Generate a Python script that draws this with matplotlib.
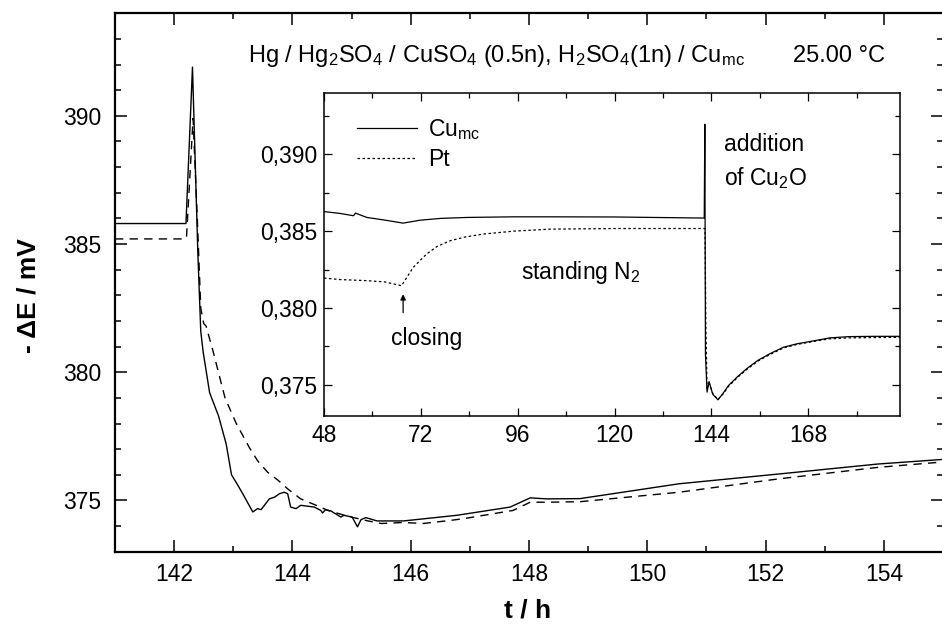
import matplotlib
matplotlib.use("Agg")
import matplotlib.pyplot as plt
from matplotlib.ticker import MultipleLocator, FuncFormatter

# main plot: potential (mV) vs time (h), close-up after Cu2O addition
main_t_cu = [141.0, 142.20, 142.31, 142.40, 142.45, 142.49, 142.60, 142.75, 142.88, 142.97,
             143.08, 143.16, 143.33, 143.41, 143.47, 143.61, 143.70, 143.78, 143.86, 143.92,
             143.97, 144.06, 144.14, 144.37, 144.48, 144.51, 144.56, 144.65, 144.82, 144.87,
             145.01, 145.10, 145.16, 145.24, 145.43, 145.88, 146.78, 147.68, 148.02, 148.30,
             148.86, 150.54, 152.22, 153.90, 155.0]
main_e_cu = [385.8, 385.8, 391.9, 384.7, 381.6, 380.8, 379.2, 378.3, 377.2, 376.0,
             375.58, 375.26, 374.55, 374.68, 374.64, 375.06, 375.13, 375.26, 375.32, 375.26,
             374.74, 374.68, 374.81, 374.74, 374.61, 374.51, 374.64, 374.59, 374.35, 374.42,
             374.35, 373.97, 374.25, 374.33, 374.20, 374.20, 374.42, 374.74, 375.10, 375.06,
             375.07, 375.65, 376.03, 376.42, 376.60]

main_t_pt = [141.0, 142.19, 142.21, 142.32, 142.40, 142.45, 142.50, 142.54, 142.66, 142.86,
             143.05, 143.27, 143.41, 143.58, 143.75, 143.92, 144.14, 144.37, 144.60, 144.94,
             145.28, 145.50, 145.88, 146.21, 146.67, 146.90, 147.73, 148.02, 148.30, 148.86,
             150.54, 152.22, 153.90, 155.0]
main_e_pt = [385.2, 385.2, 385.3, 389.9, 385.5, 382.5, 381.9, 381.8, 380.8, 379.0,
             378.0, 377.07, 376.55, 376.1, 375.8, 375.45, 375.06, 374.84, 374.61, 374.38,
             374.20, 374.10, 374.14, 374.10, 374.22, 374.29, 374.61, 374.93, 374.93, 374.95,
             375.32, 375.84, 376.29, 376.50]

# inset: whole run, potential in V
inset_t_cu = [48, 52, 55.3, 55.8, 58.6, 63, 67.6, 71.8, 77, 83.4, 95, 104, 120, 142.2,
              142.35, 142.5, 142.9, 143.4, 144.3, 145.6, 147.0, 148.2, 150.5, 152.7, 155.5,
              158.4, 161.8, 165.1, 170.0, 173.3, 178, 184, 190.7]
inset_e_cu = [0.38627, 0.38615, 0.38600, 0.38617, 0.38589, 0.38572, 0.38552, 0.38571, 0.38583,
              0.38589, 0.38593, 0.38593, 0.38592, 0.38585, 0.39195, 0.37700, 0.37453, 0.37522,
              0.37440, 0.37403, 0.37450, 0.37496, 0.37555, 0.37605, 0.37660, 0.37702, 0.37745,
              0.37767, 0.37790, 0.37806, 0.37814, 0.37816, 0.37816]

inset_t_pt = [48, 52, 58.6, 63, 67.2, 70.1, 73.4, 76, 79.2, 83, 87.5, 95, 104, 120, 142.4,
              142.6, 142.9, 143.4, 144.3, 145.6, 147.0, 148.2, 150.5, 152.7, 155.5, 158.4,
              161.8, 165.1, 170.0, 173.3, 178, 184, 190.7]
inset_e_pt = [0.38195, 0.38185, 0.38178, 0.38170, 0.38145, 0.38264, 0.38351, 0.38400, 0.38437,
              0.38462, 0.38481, 0.38500, 0.38513, 0.38517, 0.38517, 0.37900, 0.37470, 0.37515,
              0.37445, 0.37405, 0.37445, 0.37490, 0.37550, 0.37600, 0.37655, 0.37697, 0.37740,
              0.37763, 0.37786, 0.37800, 0.37806, 0.37808, 0.37810]

closing_t = 67.6

plt.rcParams['font.family'] = ['Liberation Sans', 'DejaVu Sans']
plt.rcParams['mathtext.fontset'] = 'custom'
plt.rcParams['mathtext.rm'] = 'Liberation Sans'
plt.rcParams['mathtext.it'] = 'Liberation Sans:italic'
plt.rcParams['mathtext.bf'] = 'Liberation Sans:bold'

FS = 16.5

fig = plt.figure(figsize=(9.42, 6.33), dpi=100)

# ---- main axes
ax = fig.add_axes([115 / 942, 1 - 551.7 / 633, 828 / 942, 538.4 / 633])
ax.plot(main_t_cu, main_e_cu, color='black', lw=1.0)
ax.plot(main_t_pt, main_e_pt, color='black', lw=1.0, dashes=(6, 4.5))
ax.set_xlim(141, 155)
ax.set_ylim(373, 394)
ax.xaxis.set_major_locator(MultipleLocator(2))
ax.xaxis.set_minor_locator(MultipleLocator(1))
ax.yaxis.set_major_locator(MultipleLocator(5))
ax.yaxis.set_minor_locator(MultipleLocator(1))
ax.tick_params(which='both', direction='in', top=True, right=True, width=1.1)
ax.tick_params(which='major', length=8.5, labelsize=FS)
ax.tick_params(which='minor', length=4.5)
ax.tick_params(axis='x', pad=8)
ax.tick_params(axis='y', pad=10)
for sp in ax.spines.values():
    sp.set_linewidth(1.6)

fig.text(528 / 942, 1 - 611 / 633, 't / h', ha='center', va='center',
         fontsize=19, fontweight='bold')
fig.text(29 / 942, 1 - 296 / 633, '- \u0394E / mV', ha='center', va='center',
         rotation=90, fontsize=19, fontweight='bold')

fig.text(248 / 942, 1 - 61.7 / 633,
         r'Hg / Hg$_2$SO$_4$ / CuSO$_4$ (0.5n), H$_2$SO$_4$(1n) / Cu$_{\rm mc}$',
         ha='left', va='baseline', fontsize=17)
fig.text(792.7 / 942, 1 - 61.7 / 633, '25.00 \u00b0C', ha='left', va='baseline',
         fontsize=17)

# ---- inset
ins = fig.add_axes([324 / 942, 1 - 415.7 / 633, 576 / 942, 323 / 633])
ins.set_facecolor('white')
ins.plot(inset_t_cu, inset_e_cu, color='black', lw=0.9, label=r'Cu$_{\rm mc}$')
ins.plot(inset_t_pt, inset_e_pt, color='black', lw=0.9, dashes=(2, 2), label='Pt')
ins.set_xlim(48, 190.7)
ins.set_ylim(0.373, 0.394)
ins.xaxis.set_major_locator(MultipleLocator(24))
ins.xaxis.set_minor_locator(MultipleLocator(12))
ins.yaxis.set_major_locator(MultipleLocator(0.005))
ins.yaxis.set_minor_locator(MultipleLocator(0.0025))
ins.yaxis.set_major_formatter(FuncFormatter(lambda v, p: f'{v:.3f}'.replace('.', ',')))
ins.tick_params(which='both', direction='in', top=True, right=True, width=0.9)
ins.tick_params(which='major', length=6, labelsize=FS)
ins.tick_params(which='minor', length=3.5)
ins.tick_params(axis='x', pad=6)
ins.tick_params(axis='y', pad=5)
for sp in ins.spines.values():
    sp.set_linewidth(1.1)

ins.legend(loc='upper left', bbox_to_anchor=(33 / 576, 0.925), frameon=False,
           fontsize=FS, handlelength=2.6, handletextpad=0.5, labelspacing=0.28,
           borderpad=0, borderaxespad=0)

ins.annotate('', xy=(closing_t, 0.3809), xytext=(closing_t, 0.3797),
             arrowprops=dict(arrowstyle='-|>', color='black', lw=0.9,
                             mutation_scale=8, shrinkA=0, shrinkB=0))
ins.text(73.5, 0.3776, 'closing', ha='center', va='baseline', fontsize=FS)
ins.text(96.9, 0.3819, r'standing N$_2$', ha='left', va='baseline', fontsize=FS)
ins.text(147.1, 0.3902, 'addition', ha='left', va='baseline', fontsize=FS)
ins.text(147.1, 0.3880, r'of Cu$_2$O', ha='left', va='baseline', fontsize=FS)

fig.savefig('out.png', dpi=100)
